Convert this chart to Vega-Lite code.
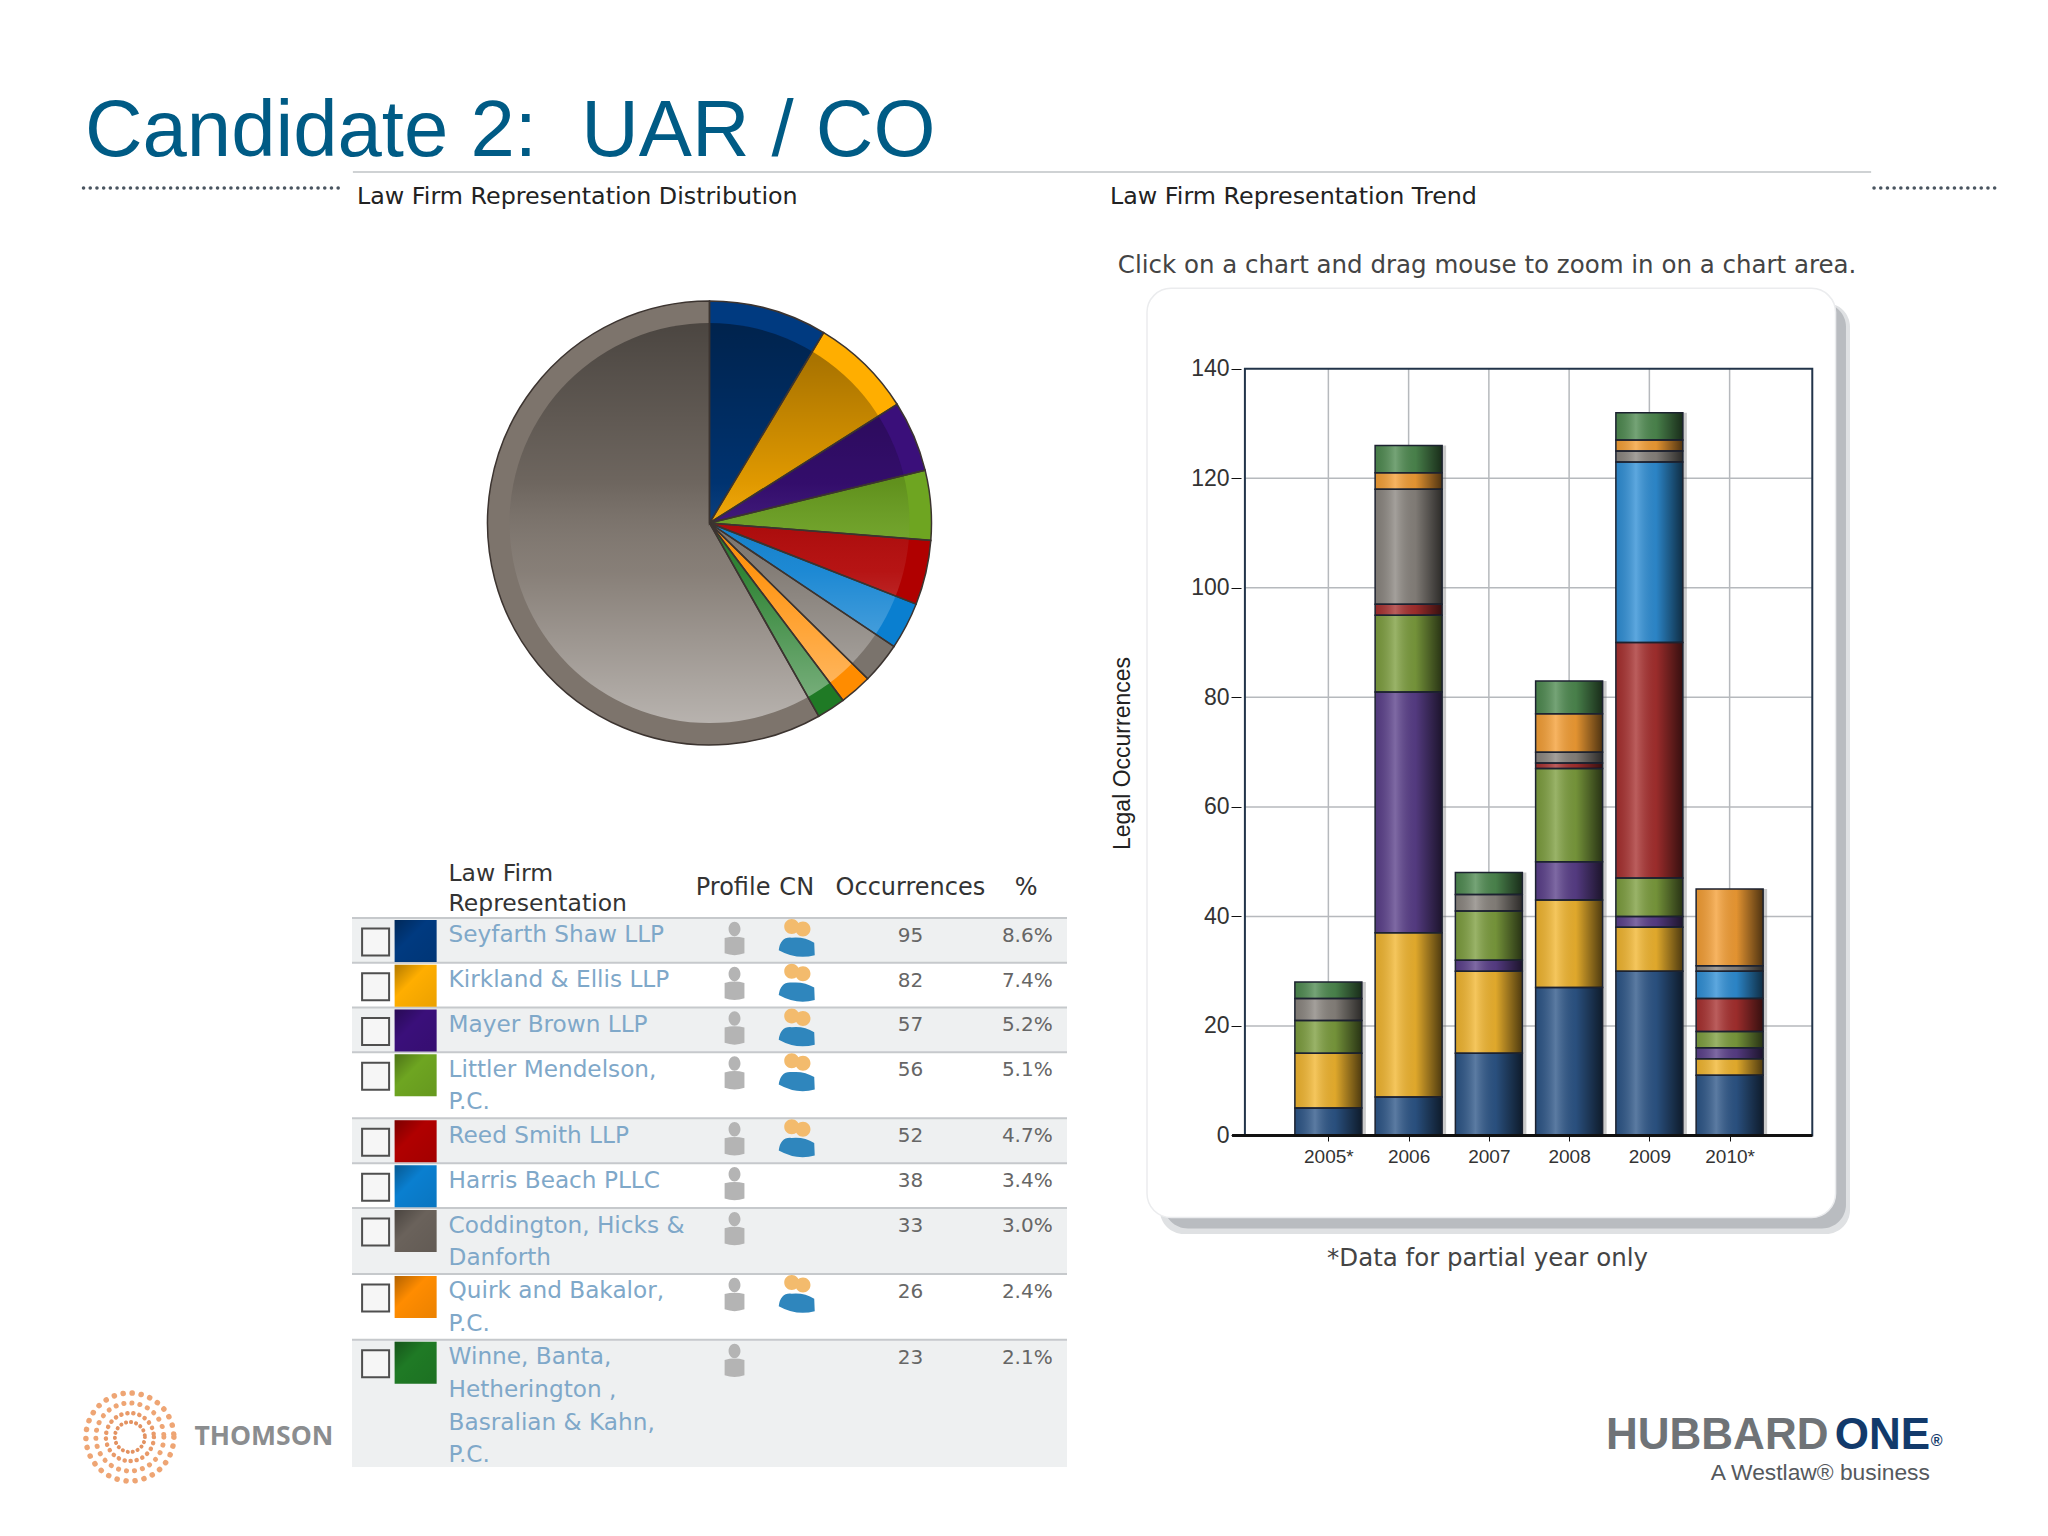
{"$schema":"https://vega.github.io/schema/vega-lite/v6.json","padding":{"left":74.5,"top":92,"right":0,"bottom":0},"background":"white","title":{"text":"Candidate 2:\u00a0 UAR / CO","anchor":"start","frame":"group","font":"Liberation Sans","fontSize":79.7,"fontWeight":"normal","color":"#005b85","offset":-2,"dx":1.5},"config":{"view":{"stroke":null},"axis":{"labelFont":"Liberation Sans","titleFont":"Liberation Sans"}},"datasets":{"firms":[{"rank":1,"firm":"Seyfarth Shaw LLP","label":"Seyfarth Shaw LLP","occ":95,"pct":"8.6%","cn":true,"lines":1.37},{"rank":2,"firm":"Kirkland & Ellis LLP","label":"Kirkland & Ellis LLP","occ":82,"pct":"7.4%","cn":true,"lines":1.36},{"rank":3,"firm":"Mayer Brown LLP","label":"Mayer Brown LLP","occ":57,"pct":"5.2%","cn":true,"lines":1.37},{"rank":4,"firm":"Littler Mendelson, P.C.","label":"Littler Mendelson,|P.C.","occ":56,"pct":"5.1%","cn":true,"lines":2.01},{"rank":5,"firm":"Reed Smith LLP","label":"Reed Smith LLP","occ":52,"pct":"4.7%","cn":true,"lines":1.37},{"rank":6,"firm":"Harris Beach PLLC","label":"Harris Beach PLLC","occ":38,"pct":"3.4%","cn":false,"lines":1.37},{"rank":7,"firm":"Coddington, Hicks & Danforth","label":"Coddington, Hicks &|Danforth","occ":33,"pct":"3.0%","cn":false,"lines":2.01},{"rank":8,"firm":"Quirk and Bakalor, P.C.","label":"Quirk and Bakalor,|P.C.","occ":26,"pct":"2.4%","cn":true,"lines":2.01},{"rank":9,"firm":"Winne, Banta, Hetherington, Basralian & Kahn, P.C.","label":"Winne, Banta,|Hetherington ,|Basralian & Kahn,|P.C.","occ":23,"pct":"2.1%","cn":false,"lines":3.88},{"rank":10,"firm":"Other","label":"Other","occ":643,"pct":"58.2%","cn":false}],"occurrences":[{"year":2005,"firm":"Seyfarth Shaw LLP","rank":1,"n":5},{"year":2005,"firm":"Kirkland & Ellis LLP","rank":2,"n":10},{"year":2005,"firm":"Littler Mendelson, P.C.","rank":4,"n":6},{"year":2005,"firm":"Coddington, Hicks & Danforth","rank":7,"n":4},{"year":2005,"firm":"Winne, Banta, Hetherington, Basralian & Kahn, P.C.","rank":9,"n":3},{"year":2006,"firm":"Seyfarth Shaw LLP","rank":1,"n":7},{"year":2006,"firm":"Kirkland & Ellis LLP","rank":2,"n":30},{"year":2006,"firm":"Mayer Brown LLP","rank":3,"n":44},{"year":2006,"firm":"Littler Mendelson, P.C.","rank":4,"n":14},{"year":2006,"firm":"Reed Smith LLP","rank":5,"n":2},{"year":2006,"firm":"Coddington, Hicks & Danforth","rank":7,"n":21},{"year":2006,"firm":"Quirk and Bakalor, P.C.","rank":8,"n":3},{"year":2006,"firm":"Winne, Banta, Hetherington, Basralian & Kahn, P.C.","rank":9,"n":5},{"year":2007,"firm":"Seyfarth Shaw LLP","rank":1,"n":15},{"year":2007,"firm":"Kirkland & Ellis LLP","rank":2,"n":15},{"year":2007,"firm":"Mayer Brown LLP","rank":3,"n":2},{"year":2007,"firm":"Littler Mendelson, P.C.","rank":4,"n":9},{"year":2007,"firm":"Coddington, Hicks & Danforth","rank":7,"n":3},{"year":2007,"firm":"Winne, Banta, Hetherington, Basralian & Kahn, P.C.","rank":9,"n":4},{"year":2008,"firm":"Seyfarth Shaw LLP","rank":1,"n":27},{"year":2008,"firm":"Kirkland & Ellis LLP","rank":2,"n":16},{"year":2008,"firm":"Mayer Brown LLP","rank":3,"n":7},{"year":2008,"firm":"Littler Mendelson, P.C.","rank":4,"n":17},{"year":2008,"firm":"Reed Smith LLP","rank":5,"n":1},{"year":2008,"firm":"Coddington, Hicks & Danforth","rank":7,"n":2},{"year":2008,"firm":"Quirk and Bakalor, P.C.","rank":8,"n":7},{"year":2008,"firm":"Winne, Banta, Hetherington, Basralian & Kahn, P.C.","rank":9,"n":6},{"year":2009,"firm":"Seyfarth Shaw LLP","rank":1,"n":30},{"year":2009,"firm":"Kirkland & Ellis LLP","rank":2,"n":8},{"year":2009,"firm":"Mayer Brown LLP","rank":3,"n":2},{"year":2009,"firm":"Littler Mendelson, P.C.","rank":4,"n":7},{"year":2009,"firm":"Reed Smith LLP","rank":5,"n":43},{"year":2009,"firm":"Harris Beach PLLC","rank":6,"n":33},{"year":2009,"firm":"Coddington, Hicks & Danforth","rank":7,"n":2},{"year":2009,"firm":"Quirk and Bakalor, P.C.","rank":8,"n":2},{"year":2009,"firm":"Winne, Banta, Hetherington, Basralian & Kahn, P.C.","rank":9,"n":5},{"year":2010,"firm":"Seyfarth Shaw LLP","rank":1,"n":11},{"year":2010,"firm":"Kirkland & Ellis LLP","rank":2,"n":3},{"year":2010,"firm":"Mayer Brown LLP","rank":3,"n":2},{"year":2010,"firm":"Littler Mendelson, P.C.","rank":4,"n":3},{"year":2010,"firm":"Reed Smith LLP","rank":5,"n":6},{"year":2010,"firm":"Harris Beach PLLC","rank":6,"n":5},{"year":2010,"firm":"Coddington, Hicks & Danforth","rank":7,"n":1},{"year":2010,"firm":"Quirk and Bakalor, P.C.","rank":8,"n":14}],"one":[{"part":"single"}]},"bounds":"flush","spacing":85,"resolve":{"scale":{"color":"independent"}},"vconcat":[{"width":1916,"height":16,"data":{"name":"one"},"layer":[{"mark":{"type":"rule","color":"#cfd2d4","strokeWidth":2},"encoding":{"x":{"datum":14.06,"type":"quantitative","scale":{"domain":[0,100],"nice":false},"axis":null},"x2":{"datum":93.3},"y":{"datum":1,"type":"quantitative","scale":{"domain":[0,1],"nice":false},"axis":null}}},{"mark":{"type":"rule","color":"#4a5560","strokeWidth":3.5,"strokeDash":[0.1,6.6],"strokeCap":"round"},"encoding":{"x":{"datum":0,"type":"quantitative"},"x2":{"datum":13.58},"y":{"datum":0,"type":"quantitative"}}},{"mark":{"type":"rule","color":"#4a5560","strokeWidth":3.5,"strokeDash":[0.1,6.6],"strokeCap":"round"},"encoding":{"x":{"datum":93.45,"type":"quantitative"},"x2":{"datum":100},"y":{"datum":0,"type":"quantitative"}}}]},{"bounds":"full","spacing":41.5,"resolve":{"scale":{"color":"independent"}},"hconcat":[{"bounds":"full","spacing":15.5,"resolve":{"scale":{"color":"independent"}},"hconcat":[{"width":252,"height":1205,"data":{"name":"one"},"layer":[{"mark":{"type":"point","filled":false,"color":"#e8803a","size":7744,"strokeWidth":5.5,"strokeDash":[0.1,9],"strokeCap":"round"},"encoding":{"x":{"datum":18.4,"type":"quantitative","scale":{"domain":[0,100],"nice":false},"axis":null},"y":{"datum":3.4,"type":"quantitative","scale":{"domain":[0,100],"nice":false},"axis":null}}},{"mark":{"type":"point","filled":false,"color":"#e8803a","size":4624,"strokeWidth":5,"strokeDash":[0.1,8],"strokeCap":"round"},"encoding":{"x":{"datum":18.4,"type":"quantitative"},"y":{"datum":3.4,"type":"quantitative"}}},{"mark":{"type":"point","filled":false,"color":"#e0702a","size":2304,"strokeWidth":4.5,"strokeDash":[0.1,6],"strokeCap":"round"},"encoding":{"x":{"datum":18.4,"type":"quantitative"},"y":{"datum":3.4,"type":"quantitative"}}},{"mark":{"type":"point","filled":false,"color":"#d8641f","size":900,"strokeWidth":4,"strokeDash":[0.1,5],"strokeCap":"round"},"encoding":{"x":{"datum":18.4,"type":"quantitative"},"y":{"datum":3.4,"type":"quantitative"}}},{"mark":{"type":"text","align":"left","baseline":"middle","font":"Open Sans","fontWeight":"bold","fontSize":26.5,"color":"#8b8d8f","text":"THOMSON"},"encoding":{"x":{"datum":44,"type":"quantitative"},"y":{"datum":3.4,"type":"quantitative"}}}]},{"bounds":"flush","spacing":82,"resolve":{"scale":{"color":"independent"}},"vconcat":[{"width":715,"height":500,"title":{"text":"Law Firm Representation Distribution","anchor":"start","frame":"group","font":"DejaVu Sans","fontSize":23.8,"fontWeight":"normal","color":"#222222","offset":64,"dx":5},"data":{"name":"firms"},"layer":[{"mark":{"type":"arc","radius":222},"encoding":{"theta":{"field":"occ","type":"quantitative","stack":true},"order":{"field":"rank"},"color":{"field":"firm","type":"nominal","legend":null,"scale":{"domain":["Seyfarth Shaw LLP","Kirkland & Ellis LLP","Mayer Brown LLP","Littler Mendelson, P.C.","Reed Smith LLP","Harris Beach PLLC","Coddington, Hicks & Danforth","Quirk and Bakalor, P.C.","Winne, Banta, Hetherington, Basralian & Kahn, P.C.","Other"],"range":["#003a80","#ffae00","#3a0f7a","#6ea521","#b00000","#0a7fd0","#7a736c","#ff8c00","#1f7a25","#7d746c"]}}}},{"mark":{"type":"arc","radius":200},"encoding":{"theta":{"field":"occ","type":"quantitative","stack":true},"order":{"field":"rank"},"color":{"field":"firm","type":"nominal","legend":null}}},{"data":{"name":"one"},"mark":{"type":"arc","radius":200,"theta":0,"theta2":6.2832,"fill":{"gradient":"linear","x1":0,"y1":0,"x2":0,"y2":1,"stops":[{"offset":0,"color":"rgba(0,0,0,0.4)"},{"offset":0.4,"color":"rgba(0,0,0,0.12)"},{"offset":0.62,"color":"rgba(255,255,255,0.08)"},{"offset":1,"color":"rgba(255,255,255,0.45)"}]}}},{"mark":{"type":"arc","radius":222,"fill":"transparent","stroke":"#3c3430","strokeWidth":1.5},"encoding":{"theta":{"field":"occ","type":"quantitative","stack":true},"order":{"field":"rank"}}}]},{"width":715,"height":612,"data":{"name":"firms"},"transform":[{"filter":"datum.rank <= 9"},{"stack":"lines","groupby":[],"sort":[{"field":"rank","order":"ascending"}],"as":["top","bottom"]}],"layer":[{"transform":[{"filter":"datum.rank % 2 == 1"}],"mark":{"type":"rect","fill":"#eef0f1"},"encoding":{"x":{"datum":0,"type":"quantitative","scale":{"domain":[0,100],"nice":false},"axis":null},"x2":{"datum":100},"y":{"field":"top","type":"quantitative","scale":{"domain":[-1.92,16.75],"reverse":true,"nice":false},"axis":null},"y2":{"field":"bottom"}}},{"mark":{"type":"rule","color":"#c6c9cc","strokeWidth":2},"encoding":{"x":{"datum":0,"type":"quantitative"},"x2":{"datum":100},"y":{"field":"top","type":"quantitative"}}},{"mark":{"type":"point","shape":"square","filled":true,"fill":"#f6f6f6","stroke":"#4f4f4f","strokeWidth":2,"size":729,"opacity":1,"yOffset":24},"encoding":{"x":{"datum":3.3,"type":"quantitative"},"y":{"field":"top","type":"quantitative"}}},{"mark":{"type":"point","shape":"square","filled":true,"size":1764,"opacity":1,"yOffset":23},"encoding":{"x":{"datum":8.9,"type":"quantitative"},"y":{"field":"top","type":"quantitative"},"color":{"field":"firm","type":"nominal","legend":null,"scale":{"domain":["Seyfarth Shaw LLP","Kirkland & Ellis LLP","Mayer Brown LLP","Littler Mendelson, P.C.","Reed Smith LLP","Harris Beach PLLC","Coddington, Hicks & Danforth","Quirk and Bakalor, P.C.","Winne, Banta, Hetherington, Basralian & Kahn, P.C."],"range":["#003a80","#ffae00","#3a0f7a","#6ea521","#b00000","#0a7fd0","#6a625b","#ff8c00","#1f7a25"]}}}},{"mark":{"type":"point","shape":"square","filled":true,"size":1764,"opacity":1,"yOffset":23,"fill":{"gradient":"linear","x1":0,"y1":0,"x2":1,"y2":1,"stops":[{"offset":0,"color":"rgba(0,0,0,0.3)"},{"offset":0.4,"color":"rgba(0,0,0,0)"},{"offset":1,"color":"rgba(0,0,0,0.08)"}]}},"encoding":{"x":{"datum":8.9,"type":"quantitative"},"y":{"field":"top","type":"quantitative"}}},{"mark":{"type":"text","align":"left","baseline":"top","font":"DejaVu Sans","fontSize":23.2,"color":"#7fa8c9","lineBreak":"|","lineHeight":32.6,"yOffset":6.5},"encoding":{"x":{"datum":13.5,"type":"quantitative"},"y":{"field":"top","type":"quantitative"},"text":{"field":"label"}}},{"mark":{"type":"point","filled":true,"opacity":1,"color":"#b4b4b4","size":1300,"yOffset":21,"shape":"M-0.33,-0.55A0.33,0.4 0 1 1 0.33,-0.55A0.33,0.4 0 1 1 -0.33,-0.55ZM-0.55,-0.05Q0,-0.2 0.55,-0.05L0.55,0.8Q0,1 -0.55,0.8Z"},"encoding":{"x":{"datum":53.5,"type":"quantitative"},"y":{"field":"top","type":"quantitative"}}},{"transform":[{"filter":"datum.cn"}],"mark":{"type":"point","filled":true,"opacity":1,"color":"#f3bb6d","size":2500,"yOffset":21,"shape":"M-0.5,-0.5A0.3,0.3 0 1 1 0.1,-0.5A0.3,0.3 0 1 1 -0.5,-0.5ZM-0.05,-0.4A0.3,0.3 0 1 1 0.55,-0.4A0.3,0.3 0 1 1 -0.05,-0.4Z"},"encoding":{"x":{"datum":62.2,"type":"quantitative"},"y":{"field":"top","type":"quantitative"}}},{"transform":[{"filter":"datum.cn"}],"mark":{"type":"point","filled":true,"opacity":1,"color":"#2f86bd","size":2500,"yOffset":21,"shape":"M-0.72,0.45Q-0.65,-0.1 -0.2,-0.05Q0.3,-0.1 0.7,0.15L0.72,0.65Q0,0.85 -0.72,0.45Z"},"encoding":{"x":{"datum":62.2,"type":"quantitative"},"y":{"field":"top","type":"quantitative"}}},{"mark":{"type":"text","align":"center","baseline":"middle","font":"DejaVu Sans","fontSize":20,"color":"#666666","yOffset":18},"encoding":{"x":{"datum":78.1,"type":"quantitative"},"y":{"field":"top","type":"quantitative"},"text":{"field":"occ","type":"quantitative"}}},{"mark":{"type":"text","align":"right","baseline":"middle","font":"DejaVu Sans","fontSize":20,"color":"#666666","yOffset":18},"encoding":{"x":{"datum":98,"type":"quantitative"},"y":{"field":"top","type":"quantitative"},"text":{"field":"pct"}}},{"data":{"name":"one"},"mark":{"type":"text","align":"left","baseline":"top","font":"DejaVu Sans","fontSize":23.5,"color":"#333333","lineBreak":"|","lineHeight":30,"text":"Law Firm|Representation"},"encoding":{"x":{"datum":13.5,"type":"quantitative"},"y":{"datum":-1.72,"type":"quantitative"}}},{"data":{"name":"one"},"mark":{"type":"text","align":"center","baseline":"middle","font":"DejaVu Sans","fontSize":24,"color":"#333333","text":"Profile"},"encoding":{"x":{"datum":53.3,"type":"quantitative"},"y":{"datum":-0.9,"type":"quantitative"}}},{"data":{"name":"one"},"mark":{"type":"text","align":"center","baseline":"middle","font":"DejaVu Sans","fontSize":24,"color":"#333333","text":"CN"},"encoding":{"x":{"datum":62.2,"type":"quantitative"},"y":{"datum":-0.9,"type":"quantitative"}}},{"data":{"name":"one"},"mark":{"type":"text","align":"center","baseline":"middle","font":"DejaVu Sans","fontSize":24,"color":"#333333","text":"Occurrences"},"encoding":{"x":{"datum":78.1,"type":"quantitative"},"y":{"datum":-0.9,"type":"quantitative"}}},{"data":{"name":"one"},"mark":{"type":"text","align":"center","baseline":"middle","font":"DejaVu Sans","fontSize":24,"color":"#333333","text":"%"},"encoding":{"x":{"datum":94.3,"type":"quantitative"},"y":{"datum":-0.9,"type":"quantitative"}}}]}]}]},{"bounds":"flush","spacing":159,"resolve":{"scale":{"color":"independent"}},"vconcat":[{"width":713,"height":961,"title":{"text":"Law Firm Representation Trend","subtitle":"\u200b\u00a0Click on a chart and drag mouse to zoom in on a chart area.","anchor":"start","frame":"group","font":"DejaVu Sans","fontSize":23.8,"fontWeight":"normal","color":"#222222","subtitleFont":"DejaVu Sans","subtitleFontSize":24.5,"subtitleColor":"#444444","subtitlePadding":45,"offset":-4.5,"dx":-32},"layer":[{"data":{"name":"one"},"mark":{"type":"rect","cornerRadius":24,"fill":"#dfe1e3"},"encoding":{"x":{"datum":2002.9,"type":"quantitative","scale":{"domain":[2002.74,2011.5],"nice":false},"axis":{"values":[2005,2006,2007,2008,2009,2010],"orient":"bottom","offset":-99,"domain":false,"grid":false,"ticks":true,"tickColor":"#111111","tickSize":6,"labelFontSize":19,"labelColor":"#333333","labelPadding":6,"labelExpr":"(datum.value == 2005 || datum.value == 2010) ? datum.value + '*' : '' + datum.value","format":"d","title":"*Data for partial year only","titleFont":"DejaVu Sans","titleFontSize":24.5,"titleFontWeight":"normal","titleColor":"#444444","titleX":345,"titleY":111,"zindex":1}},"x2":{"datum":2011.5},"y":{"datum":-18,"type":"quantitative","scale":{"domain":[-18,157.5],"nice":false},"axis":{"values":[0,20,40,60,80,100,120,140],"orient":"left","offset":-99,"domain":false,"grid":false,"tickColor":"#111111","tickSize":10,"labelFontSize":23,"labelColor":"#333333","labelPadding":2,"title":"Legal Occurrences","titleFontSize":23,"titleFontWeight":"normal","titleColor":"#222222","titleX":-107,"titleY":480,"zindex":1}},"y2":{"datum":152}}},{"data":{"name":"one"},"mark":{"type":"rect","cornerRadius":24,"fill":"#b9bcc0"},"encoding":{"x":{"datum":2002.95,"type":"quantitative"},"x2":{"datum":2011.45},"y":{"datum":-17,"type":"quantitative"},"y2":{"datum":152}}},{"data":{"name":"one"},"mark":{"type":"rect","cornerRadius":24,"fill":"white","stroke":"#ebecee","strokeWidth":1.5},"encoding":{"x":{"datum":2002.74,"type":"quantitative"},"x2":{"datum":2011.32},"y":{"datum":-15,"type":"quantitative"},"y2":{"datum":154.7}}},{"data":{"name":"occurrences"},"transform":[{"aggregate":[{"op":"sum","field":"n","as":"total"}],"groupby":["year"]}],"mark":{"type":"rule","color":"#b6b9bd","strokeWidth":1.5},"encoding":{"x":{"field":"year","type":"quantitative"},"y":{"datum":0,"type":"quantitative"},"y2":{"datum":140}}},{"data":{"values":[{"tick":20},{"tick":40},{"tick":60},{"tick":80},{"tick":100},{"tick":120}]},"mark":{"type":"rule","color":"#b6b9bd","strokeWidth":1.5},"encoding":{"y":{"field":"tick","type":"quantitative"},"x":{"datum":2003.96,"type":"quantitative"},"x2":{"datum":2011.03}}},{"data":{"name":"one"},"mark":{"type":"rect","fill":"transparent","stroke":"#22344a","strokeWidth":2},"encoding":{"x":{"datum":2003.96,"type":"quantitative"},"x2":{"datum":2011.03},"y":{"datum":0,"type":"quantitative"},"y2":{"datum":140}}},{"data":{"name":"occurrences"},"transform":[{"stack":"n","groupby":["year"],"sort":[{"field":"rank","order":"ascending"}],"as":["y0","y1"]}],"mark":{"type":"bar","orient":"vertical","width":67,"xOffset":4,"fill":"#666666","opacity":0.35},"encoding":{"x":{"field":"year","type":"quantitative"},"y":{"field":"y0","type":"quantitative"},"y2":{"field":"y1"}}},{"data":{"name":"occurrences"},"transform":[{"stack":"n","groupby":["year"],"sort":[{"field":"rank","order":"ascending"}],"as":["y0","y1"]}],"mark":{"type":"bar","orient":"vertical","width":67,"opacity":1},"encoding":{"x":{"field":"year","type":"quantitative"},"y":{"field":"y0","type":"quantitative"},"y2":{"field":"y1"},"color":{"field":"firm","type":"nominal","legend":null,"scale":{"domain":["Seyfarth Shaw LLP","Kirkland & Ellis LLP","Mayer Brown LLP","Littler Mendelson, P.C.","Reed Smith LLP","Harris Beach PLLC","Coddington, Hicks & Danforth","Quirk and Bakalor, P.C.","Winne, Banta, Hetherington, Basralian & Kahn, P.C."],"range":["#2d5688","#f2b62f","#5a3f8a","#7d9e3e","#a8302f","#2f8fd6","#8a857f","#f59f35","#4e8a50"]}}}},{"data":{"name":"occurrences"},"transform":[{"stack":"n","groupby":["year"],"sort":[{"field":"rank","order":"ascending"}],"as":["y0","y1"]}],"mark":{"type":"bar","orient":"vertical","width":67,"stroke":"#1c2230","strokeWidth":1.5,"fill":{"gradient":"linear","x1":0,"y1":0,"x2":1,"y2":0,"stops":[{"offset":0,"color":"rgba(0,0,0,0.1)"},{"offset":0.3,"color":"rgba(255,255,255,0.22)"},{"offset":0.6,"color":"rgba(0,0,0,0.08)"},{"offset":1,"color":"rgba(0,0,0,0.68)"}]}},"encoding":{"x":{"field":"year","type":"quantitative"},"y":{"field":"y0","type":"quantitative"},"y2":{"field":"y1"},"detail":{"field":"firm"}}},{"data":{"name":"one"},"mark":{"type":"rule","color":"#111111","strokeWidth":3},"encoding":{"x":{"datum":2003.8,"type":"quantitative"},"x2":{"datum":2011.03},"y":{"datum":0,"type":"quantitative"}}}]},{"width":800,"height":100,"data":{"name":"one"},"layer":[{"mark":{"type":"text","align":"left","baseline":"middle","font":"Liberation Sans","fontWeight":"bold","fontSize":44,"color":"#6f7377","text":"HUBBARD"},"encoding":{"x":{"datum":58,"type":"quantitative","scale":{"domain":[0,100],"nice":false},"axis":null},"y":{"datum":57,"type":"quantitative","scale":{"domain":[0,100],"nice":false},"axis":null}}},{"mark":{"type":"text","align":"left","baseline":"middle","font":"Liberation Sans","fontWeight":"bold","fontSize":44,"color":"#123a6b","text":"ONE"},"encoding":{"x":{"datum":86.6,"type":"quantitative"},"y":{"datum":57,"type":"quantitative"}}},{"mark":{"type":"text","align":"left","baseline":"middle","font":"Liberation Sans","fontWeight":"bold","fontSize":16,"color":"#123a6b","text":"®"},"encoding":{"x":{"datum":98.6,"type":"quantitative"},"y":{"datum":52,"type":"quantitative"}}},{"mark":{"type":"text","align":"left","baseline":"middle","font":"Liberation Sans","fontSize":22.8,"color":"#55595d","text":"A Westlaw® business"},"encoding":{"x":{"datum":71.1,"type":"quantitative"},"y":{"datum":20,"type":"quantitative"}}}]}]}]}]}
